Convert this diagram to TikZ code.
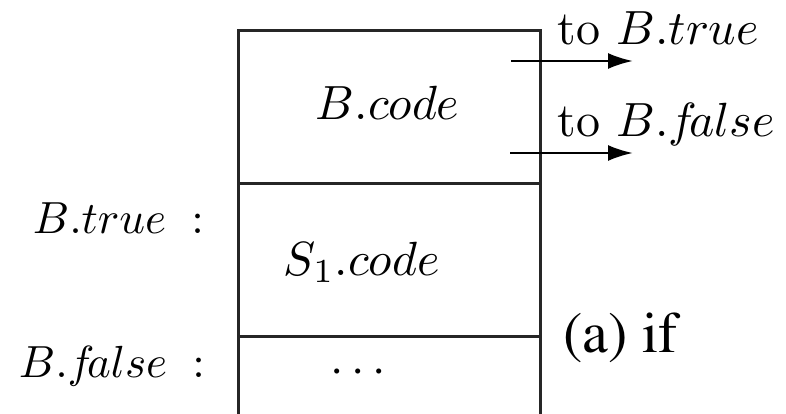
\documentclass[tikz,border=0pt]{standalone}
\usetikzlibrary{arrows.meta}
\newcommand{\capfont}{\fontencoding{OT1}\fontfamily{ptm}\selectfont}
\begin{document}
\begin{tikzpicture}[x=1pt,y=-1pt,
  boxline/.style={line width=3pt,black!85},
  txt/.style={inner sep=0pt,anchor=base west,scale=4.8},
  lbl/.style={inner sep=0pt,anchor=base west,scale=4.5},
  jump/.style={line width=2.6pt,-{Latex[length=25pt,width=16pt]}}]
\useasboundingbox (0,0) rectangle (786,414);
% box
\draw[boxline] (238,414) -- (238,31) -- (540,31) -- (540,414);
\draw[boxline] (238,183) -- (540,183);
\draw[boxline] (238,336) -- (540,336);
% texts
\node[txt] (bcode) at (315,120) {$B.code$};
\node[txt] (totrue) at (557,45) {$\mathrm{to}\ B.true$};
\node[txt] (tofalse) at (557,137) {$\mathrm{to}\ B.f\!alse$};
\node[lbl] (btrue) at (32,233) {$B.true\;:$};
\node[txt] (s1code) at (283,275) {$S_1.code$};
\node[lbl] (bfalse) at (18,377) {$B.f\!alse\;:$};
\node[txt,anchor=center] (dots) at (358,373) {$\cdots$};
\node[inner sep=0pt,anchor=base west,scale=5.8,font=\capfont] (cap) at (562,352) {(a) if};
% jumps
\coordinate (t0) at (511,61); \coordinate (t1) at (633,61);
\coordinate (f0) at (510,153); \coordinate (f1) at (633,153);
\draw[jump] (t0) -- (t1);
\draw[jump] (f0) -- (f1);
\end{tikzpicture}
\end{document}
